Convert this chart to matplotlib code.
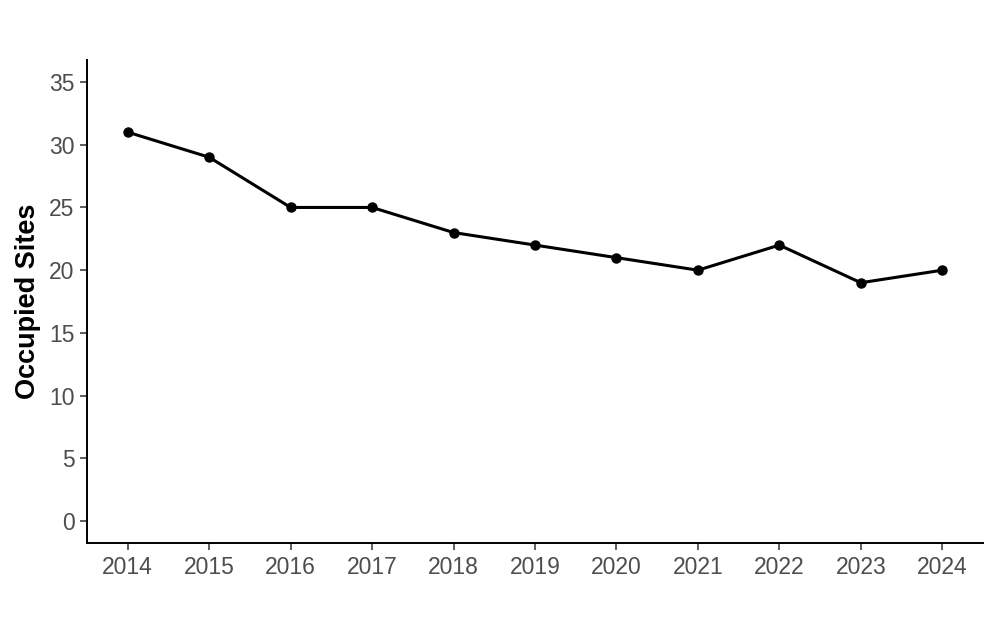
import matplotlib
matplotlib.use('Agg')
import matplotlib.pyplot as plt

# Occupied sites per year
years = [2014, 2015, 2016, 2017, 2018, 2019, 2020, 2021, 2022, 2023, 2024]
sites = [31, 29, 25, 25, 23, 22, 21, 20, 22, 19, 20]
y_ticks = [0, 5, 10, 15, 20, 25, 30, 35]

plt.rcParams['font.family'] = ['Liberation Sans', 'DejaVu Sans']

fig = plt.figure(figsize=(10, 6.25), dpi=100)
ax = fig.add_axes([0.087, 0.131, 0.896, 0.773])

ax.plot(years, sites, color='black', linewidth=2.2, marker='o', markersize=6.5)

ax.set_xlim(2013.5, 2024.5)
ax.set_ylim(-1.75, 36.75)
ax.set_xticks(years)
ax.set_yticks(y_ticks)

ax.set_ylabel('Occupied Sites', fontsize=19.5, fontweight='bold', labelpad=6)

for side in ['top', 'right']:
    ax.spines[side].set_visible(False)
for side in ['left', 'bottom']:
    ax.spines[side].set_linewidth(1.4)

ax.tick_params(axis='both', colors='#333333', labelcolor='#4D4D4D',
               labelsize=16.5, length=5, width=1.1, pad=4)

fig.savefig('out.png', dpi=100)
